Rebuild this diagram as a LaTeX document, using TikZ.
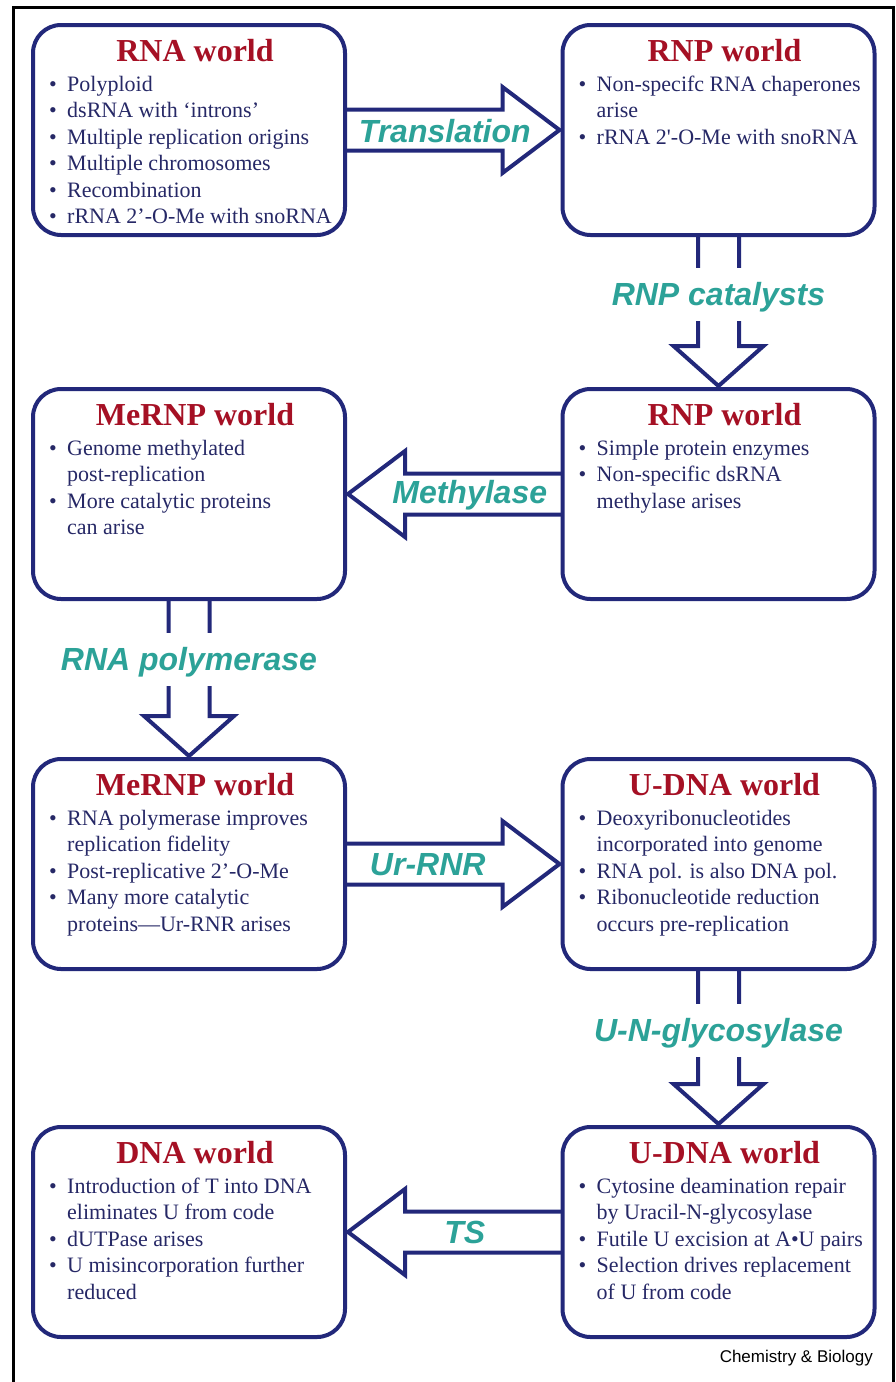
\documentclass[tikz,border=0pt]{standalone}
\usepackage{fontspec}
\setmainfont{Liberation Serif}
\newfontfamily\flowfont{Liberation Sans}
\usepackage{tikz}
\usetikzlibrary{calc}

\definecolor{navy}{RGB}{34,40,122}
\definecolor{worldred}{RGB}{165,16,36}
\definecolor{itemblue}{RGB}{38,40,102}
\definecolor{flowteal}{RGB}{44,162,152}

\newcommand{\bul}{\par\hangindent=18pt\hangafter=1\noindent\makebox[18pt][l]{\textbullet}}

\tikzset{
  world/.style={draw=navy, line width=4pt, rounded corners=28pt,
    minimum width=312pt, minimum height=210pt, inner sep=0pt, outer sep=0pt},
  worldname/.style={anchor=base, inner sep=0pt, text=worldred,
    font=\fontsize{32}{36}\selectfont\bfseries},
  worlditems/.style={anchor=base west, inner sep=0pt, text=itemblue,
    font=\fontsize{22}{26.5}\selectfont},
  % hollow block arrow: head length, shaft half width, head half width
  block/.style n args={3}{draw=navy, line width=4pt, line join=miter,
    to path={
      ($(\tikztostart)!#2!90:(\tikztotarget)$)
      -- ($(\tikztotarget)!#1!(\tikztostart)!#2!90:(\tikztotarget)$)
      -- ($(\tikztotarget)!#1!(\tikztostart)!#3!90:(\tikztotarget)$)
      -- (\tikztotarget)
      -- ($(\tikztotarget)!#1!(\tikztostart)!#3!-90:(\tikztotarget)$)
      -- ($(\tikztotarget)!#1!(\tikztostart)!#2!-90:(\tikztotarget)$)
      -- ($(\tikztostart)!#2!-90:(\tikztotarget)$)}},
  hblock/.style={block={57pt}{20.5pt}{43pt}},
  vblock/.style={block={40pt}{20.5pt}{45pt}},
  enzyme/.style={anchor=base, inner sep=0pt, text=flowteal,
    font=\flowfont\fontsize{32}{36}\selectfont\bfseries\itshape},
  enzymegap/.style={enzyme, fill=white, text height=30pt, text depth=9pt,
    inner xsep=3pt, inner ysep=7pt}
}

\begin{document}
\begin{tikzpicture}[x=1pt, y=-1pt]
\useasboundingbox (0,0) rectangle (896,1382);
\draw[line width=3pt] (13,1382) -- (13,7) -- (893,7) -- (893,1382);

% worlds
\node[world] (w1) at (189,130) {};
\node[world] (w2) at (718.5,130) {};
\node[world] (w3) at (718.5,494) {};
\node[world] (w4) at (189,494) {};
\node[world] (w5) at (189,864) {};
\node[world] (w6) at (718.5,864) {};
\node[world] (w7) at (189,1232) {};
\node[world] (w8) at (718.5,1232) {};

\node[worldname] (w1n) at ([shift={(162,36)}]w1.north west) {RNA world};
\node[worlditems] (w1i) at ([shift={(16,66)}]w1.north west) {\parbox[t]{290pt}{\raggedright
  \bul Polyploid
  \bul dsRNA with ‘introns’
  \bul Multiple replication origins
  \bul Multiple chromosomes
  \bul Recombination
  \bul rRNA 2’-O-Me with snoRNA}};

\node[worldname] (w2n) at ([shift={(162,36)}]w2.north west) {RNP world};
\node[worlditems] (w2i) at ([shift={(16,66)}]w2.north west) {\parbox[t]{290pt}{\raggedright
  \bul Non-specifc RNA chaperones\newline arise
  \bul rRNA 2\textquotesingle-O-Me with snoRNA}};

\node[worldname] (w3n) at ([shift={(162,36)}]w3.north west) {RNP world};
\node[worlditems] (w3i) at ([shift={(16,66)}]w3.north west) {\parbox[t]{290pt}{\raggedright
  \bul Simple protein enzymes
  \bul Non-specific dsRNA\newline methylase arises}};

\node[worldname] (w4n) at ([shift={(162,36)}]w4.north west) {MeRNP world};
\node[worlditems] (w4i) at ([shift={(16,66)}]w4.north west) {\parbox[t]{290pt}{\raggedright
  \bul Genome methylated\newline post-replication
  \bul More catalytic proteins\newline can arise}};

\node[worldname] (w5n) at ([shift={(162,36)}]w5.north west) {MeRNP world};
\node[worlditems] (w5i) at ([shift={(16,66)}]w5.north west) {\parbox[t]{290pt}{\raggedright
  \bul RNA polymerase improves\newline replication fidelity
  \bul Post-replicative 2’-O-Me
  \bul Many more catalytic\newline proteins—Ur-RNR arises}};

\node[worldname] (w6n) at ([shift={(162,36)}]w6.north west) {U-DNA world};
\node[worlditems] (w6i) at ([shift={(16,66)}]w6.north west) {\parbox[t]{290pt}{\raggedright
  \bul Deoxyribonucleotides\newline incorporated into genome
  \bul RNA pol. is also DNA pol.
  \bul Ribonucleotide reduction\newline occurs pre-replication}};

\node[worldname] (w7n) at ([shift={(162,36)}]w7.north west) {DNA world};
\node[worlditems] (w7i) at ([shift={(16,66)}]w7.north west) {\parbox[t]{290pt}{\raggedright
  \bul Introduction of T into DNA\newline eliminates U from code
  \bul dUTPase arises
  \bul U misincorporation further\newline reduced}};

\node[worldname] (w8n) at ([shift={(162,36)}]w8.north west) {U-DNA world};
\node[worlditems] (w8i) at ([shift={(16,66)}]w8.north west) {\parbox[t]{290pt}{\raggedright
  \bul Cytosine deamination repair\newline by Uracil-N-glycosylase
  \bul Futile U excision at A•U pairs
  \bul Selection drives replacement\newline of U from code}};

% transitions
\draw[hblock] (w1.east) to ($(w2.west)!3pt!(w1.east)$);
\draw[vblock] (w2.south) to ($(w3.north)!3pt!(w2.south)$);
\draw[hblock] (w3.west) to ($(w4.east)!3pt!(w3.west)$);
\draw[vblock] (w4.south) to ($(w5.north)!3pt!(w4.south)$);
\draw[hblock] (w5.east) to ($(w6.west)!3pt!(w5.east)$);
\draw[vblock] (w6.south) to ($(w8.north)!3pt!(w6.south)$);
\draw[hblock] (w8.west) to ($(w7.east)!3pt!(w8.west)$);

\node[enzyme] (e1) at ($(w1.east)!0.5!(w2.west)+(-9,12)$) {Translation};
\node[enzymegap] (e2) at ($(w2.south)!0.5!(w3.north)+(0,-7)$) {RNP catalysts};
\node[enzyme] (e3) at ($(w3.west)!0.5!(w4.east)+(16,9)$) {Methylase};
\node[enzymegap] (e4) at ($(w4.south)!0.5!(w5.north)+(0,-9)$) {RNA polymerase};
\node[enzyme] (e5) at ($(w5.east)!0.5!(w6.west)+(-26,11)$) {Ur-RNR};
\node[enzymegap] (e6) at ($(w6.south)!0.5!(w8.north)+(0,-7)$) {U-N-glycosylase};
\node[enzyme] (e7) at ($(w8.west)!0.5!(w7.east)+(11,11)$) {TS};

\node[anchor=base east, inner sep=0pt, font=\flowfont\fontsize{17}{20}\selectfont]
  (credit) at (873,1362) {Chemistry \& Biology};
\end{tikzpicture}
\end{document}
